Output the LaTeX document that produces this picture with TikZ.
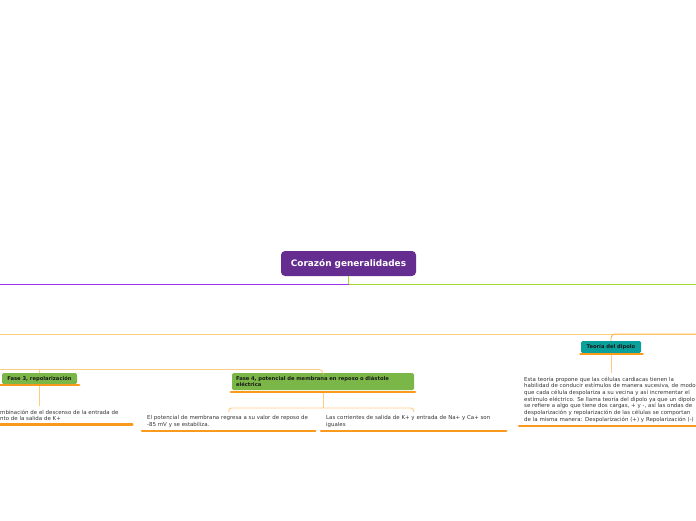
\documentclass[tikz,border=0pt]{standalone}
\usepackage{fontspec}
\setmainfont{DejaVu Sans}
\usetikzlibrary{positioning,calc}
\definecolor{hubpurple}{HTML}{662D91}
\definecolor{mainviolet}{HTML}{9B30F0}
\definecolor{maingreen}{HTML}{A3DB2B}
\definecolor{linkorange}{HTML}{FFCB80}
\definecolor{linkdeep}{HTML}{FFB447}
\definecolor{deeporange}{HTML}{F99A1C}
\definecolor{leafgreen}{HTML}{7AB648}
\definecolor{tealbox}{HTML}{0AA19D}

\begin{document}
\begin{tikzpicture}[x=1pt, y=-1pt,
  hub/.style={rectangle, fill=hubpurple, text=white, minimum width=135pt, minimum height=25pt, rounded corners=4pt, font=\fontsize{8.9}{10}\selectfont\bfseries},
  box/.style={rectangle, fill=#1, rounded corners=1.5pt, inner xsep=4pt, inner ysep=2pt, align=left, text=black!90, font=\fontsize{5.2}{6.2}\selectfont\bfseries},
  note/.style={anchor=north west, inner xsep=5pt, inner ysep=3.5pt, align=left, text=black!80, font=\fontsize{5.45}{6.7}\selectfont},
  uline/.style={line width=2.2pt, deeporange, line cap=round},
  link/.style={linkorange, line width=0.9pt, rounded corners=4pt}
]
  \path[use as bounding box] (0,0) rectangle (696,520);
  \clip (0,0) rectangle (696,520);

  % central topic
  \node[hub] (hub) at (348.5,263.5) {Corazón generalidades};
  \coordinate (hubjoin) at (348.5,284.5);
  \coordinate (leftend) at (0,284.5);
  \coordinate (rightend) at (696,284.5);
  \draw[line width=1.3pt, maingreen] (hub.south) -- (hubjoin) -- (rightend);
  \draw[line width=1.3pt, mainviolet] (hubjoin) -- (leftend);

  % teoria del dipolo
  \coordinate (midleft) at (0,334);
  \coordinate (midright) at (696,334);
  \draw[link] (midleft) -- (midright);
  \node[box=tealbox, minimum width=60pt, minimum height=12pt] (dipolo) at (611,347) {Teoría del dipolo};
  \draw[link, linkdeep] (dipolo.north) |- (midright);
  \draw[uline] ([xshift=-0.5pt,yshift=-1pt]dipolo.south west) -- ([xshift=1.5pt,yshift=-1pt]dipolo.south east);
  \node[note, text width=174pt] (ndip) at (519,373) {Esta teoría propone que las células cardiacas tienen la\\habilidad de conducir estímulos de manera sucesiva, de modo\\que cada célula despolariza a su vecina y así incrementar el\\estímulo eléctrico. Se llama teoría del dipolo ya que un dipolo\\se refiere a algo que tiene dos cargas, + y -, así las ondas de\\despolarización y repolarización de las células se comportan\\de la misma manera: Despolarización (+) y Repolarización (-)};
  \draw[uline] (ndip.south west) -- (ndip.south east);
  \draw[link] ([yshift=-2pt]dipolo.south) -- (dipolo.south |- ndip.north);

  % fases
  \coordinate (rowleft) at (0,369.5);
  \node[box=leafgreen, minimum width=75pt, minimum height=11pt] (fase3) at (39.5,378.5) {Fase 3, repolarización};
  \node[box=leafgreen, text width=174pt, minimum height=17pt] (fase4) at (323,381.5) {Fase 4, potencial de membrana en reposo o diástole\\eléctrica};
  \draw[link] (rowleft) -| (fase4.north);
  \draw[link] (fase3.north) -- (fase3.north |- rowleft);
  \draw[uline] ([xshift=-2pt,yshift=-1pt]fase3.south west) -- ([xshift=2pt,yshift=-1pt]fase3.south east);
  \draw[uline] ([xshift=-1pt,yshift=-1.5pt]fase4.south west) -- ([xshift=1pt,yshift=-1.5pt]fase4.south east);

  \node[note, text width=127pt] (n3) at (-5,406) {mbinación de el descenso de la entrada de\\nto de la salida de K+};
  \draw[uline] (n3.south west) -- (n3.south east);
  \draw[link] ([yshift=-2pt]fase3.south) -- (fase3.south |- n3.north);

  \node[note, text width=163pt] (n4a) at (142,412) {El potencial de membrana regresa a su valor de reposo de\\-85 mV y se estabiliza.};
  \node[note, text width=175pt] (n4b) at (321,412) {Las corrientes de salida de K+ y entrada de Na+ y Ca+ son\\iguales};
  \draw[uline] (n4a.south west) -- (n4a.south east);
  \draw[uline] (n4b.south west) -- (n4b.south east);
  \coordinate (fork4) at (323,408);
  \draw[link] ([yshift=-2.5pt]fase4.south) -- (fork4);
  \draw[link, rounded corners=3pt] (n4a.north) |- (fork4) -| (n4b.north);
\end{tikzpicture}
\end{document}
